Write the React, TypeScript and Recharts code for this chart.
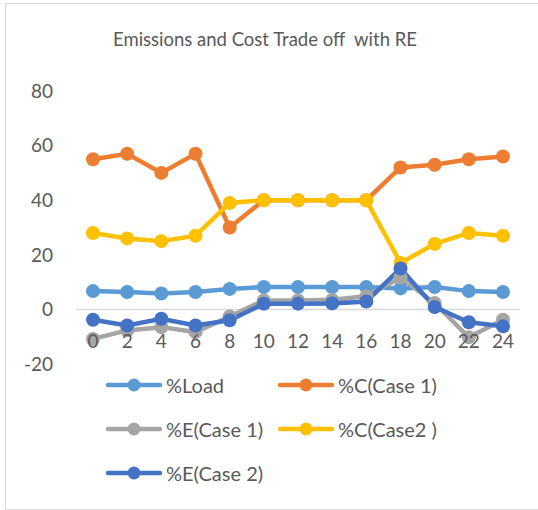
import { Legend, Line, LineChart, ReferenceLine, XAxis, YAxis } from "recharts";

const hours = [0, 2, 4, 6, 8, 10, 12, 14, 16, 18, 20, 22, 24];
const loadPct = [6.7, 6.4, 5.8, 6.4, 7.5, 8.2, 8.2, 8.2, 8.2, 7.7, 8.2, 6.7, 6.4];
const costCase1 = [55, 57, 50, 57, 30, 40, 40, 40, 40, 52, 53, 55, 56];
const emisCase1 = [-10.8, -7.7, -6.5, -8.3, -2.6, 3.3, 3.3, 3.5, 4.8, 11.7, 2.3, -10.2, -3.8];
const costCase2 = [28, 26, 25, 27, 39, 40, 40, 40, 40, 17, 24, 28, 27];
const emisCase2 = [-3.8, -5.9, -3.4, -5.9, -4, 2.1, 2.1, 2.2, 2.9, 15, 0.9, -4.7, -6.2];
const yTicks = [-20, 0, 20, 40, 60, 80];

const series = [
  { key: "load", name: "%Load", color: "#5B9BD5", values: loadPct },
  { key: "c1", name: "%C(Case 1)", color: "#ED7D31", values: costCase1 },
  { key: "e1", name: "%E(Case 1)", color: "#A5A5A5", values: emisCase1 },
  { key: "c2", name: "%C(Case2 )", color: "#FFC000", values: costCase2 },
  { key: "e2", name: "%E(Case 2)", color: "#4472C4", values: emisCase2 },
];
const seriesOrder = series.map((s) => s.name);

const data = hours.map((h, i) => {
  const row: Record<string, number> = { hour: h };
  series.forEach((s) => (row[s.key] = s.values[i]));
  return row;
});

const FONT = "Lato, 'Open Sans', sans-serif";
const TEXT = "#595959";

function XTick({ x, y, payload }: any) {
  return (
    <text x={x} y={y - 24} textAnchor="middle" fill={TEXT} fontSize={19} fontFamily={FONT}>
      {payload.value}
    </text>
  );
}

function LegendBox({ payload }: any) {
  const items = [...(payload ?? [])].sort(
    (a: any, b: any) => seriesOrder.indexOf(a.value) - seriesOrder.indexOf(b.value)
  );
  return (
    <div
      style={{
        display: "grid",
        gridTemplateColumns: "172px 180px",
        fontFamily: FONT,
        fontSize: 20,
        color: TEXT,
      }}
    >
      {items.map((it: any) => (
        <div key={it.value} style={{ display: "flex", alignItems: "center", height: 44 }}>
          <svg width={56} height={16} style={{ marginRight: 4, flex: "none" }}>
            <line x1={2} y1={8} x2={54} y2={8} stroke={it.color} strokeWidth={4.5} strokeLinecap="round" />
            <circle cx={28} cy={8} r={6.5} fill={it.color} />
          </svg>
          <span style={{ whiteSpace: "pre" }}>{it.value}</span>
        </div>
      ))}
    </div>
  );
}

export default function App() {
  return (
    <div
      style={{
        position: "fixed",
        left: 0,
        top: 0,
        width: 538,
        height: 510,
        overflow: "hidden",
        background: "#fff",
      }}
    >
      <div
        style={{
          position: "absolute",
          left: 5,
          top: 3,
          width: 540,
          height: 505,
          border: "1px solid #d9d9d9",
        }}
      />
      <div
        style={{
          position: "absolute",
          left: 0,
          top: 28,
          width: 530,
          textAlign: "center",
          fontFamily: FONT,
          fontSize: 18.5,
          color: TEXT,
          whiteSpace: "pre",
        }}
      >
        {"Emissions and Cost Trade off  with RE"}
      </div>
      <div style={{ position: "absolute", left: 0, top: 0 }}>
        <LineChart width={538} height={510} data={data} margin={{ top: 91, right: 18, bottom: 116, left: 0 }}>
          <XAxis
            dataKey="hour"
            padding={{ left: 17, right: 17 }}
            axisLine={false}
            tickLine={false}
            tick={<XTick />}
            interval={0}
          />
          <YAxis
            width={76}
            domain={[-20, 80]}
            ticks={yTicks}
            axisLine={false}
            tickLine={false}
            tickMargin={17}
            tick={{ fill: TEXT, fontSize: 19, fontFamily: FONT }}
          />
          <ReferenceLine y={0} stroke="#d9d9d9" strokeWidth={1.5} />
          {series.map((s) => (
            <Line
              key={s.key}
              dataKey={s.key}
              name={s.name}
              stroke={s.color}
              strokeWidth={4.5}
              dot={{ r: 7, fill: s.color, stroke: s.color, strokeWidth: 0 }}
              activeDot={false}
              isAnimationActive={false}
            />
          ))}
          <Legend
            layout="vertical"
            align="center"
            verticalAlign="middle"
            content={<LegendBox />}
            wrapperStyle={{ left: 106, top: 363, width: 360 }}
          />
        </LineChart>
      </div>
    </div>
  );
}
